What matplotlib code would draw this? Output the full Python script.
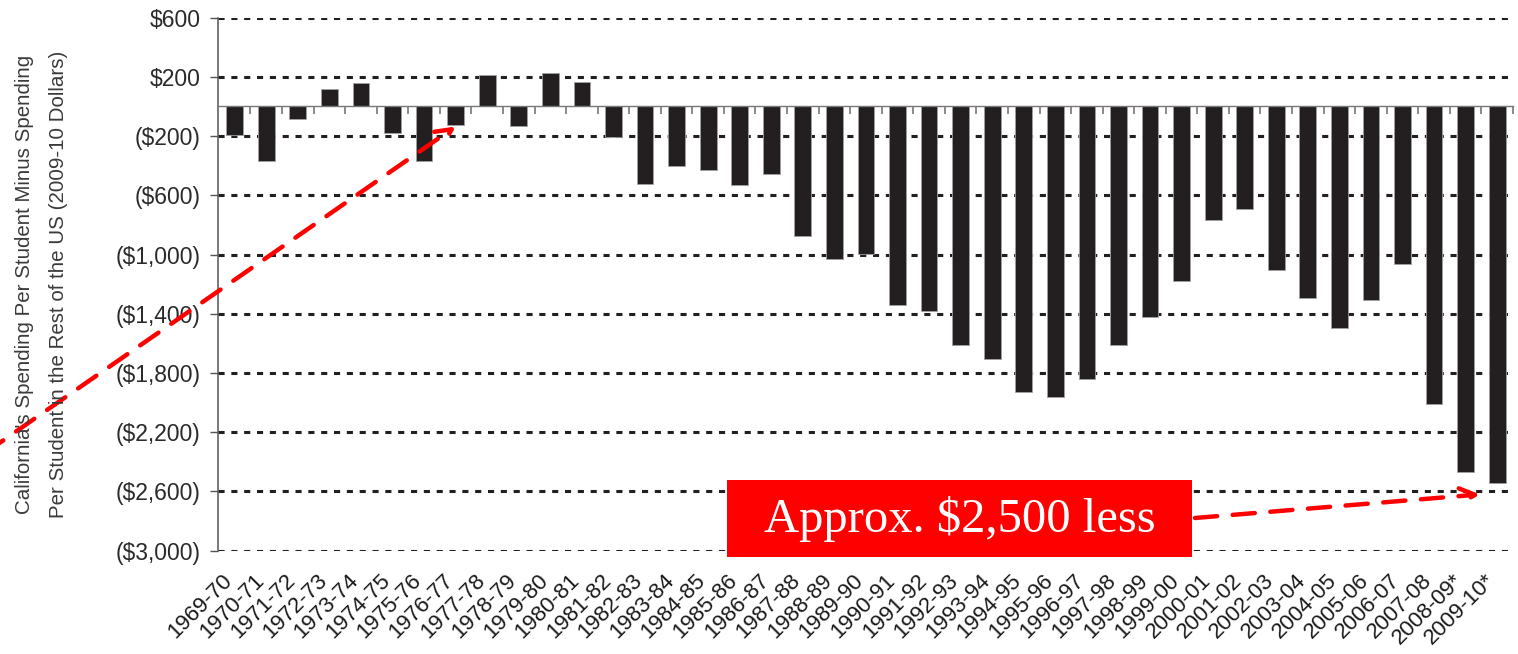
import matplotlib.pyplot as plt
from matplotlib.patches import Rectangle
from matplotlib.transforms import ScaledTranslation

years = ["1969-70", "1970-71", "1971-72", "1972-73", "1973-74", "1974-75", "1975-76",
         "1976-77", "1977-78", "1978-79", "1979-80", "1980-81", "1981-82", "1982-83",
         "1983-84", "1984-85", "1985-86", "1986-87", "1987-88", "1988-89", "1989-90",
         "1990-91", "1991-92", "1992-93", "1993-94", "1994-95", "1995-96", "1996-97",
         "1997-98", "1998-99", "1999-00", "2000-01", "2001-02", "2002-03", "2003-04",
         "2004-05", "2005-06", "2006-07", "2007-08", "2008-09*", "2009-10*"]

# California per-student spending minus rest of US (2009-10 dollars)
gap = [-195, -370, -85, 120, 160, -180, -370, -125, 215, -132, 226, 167, -205,
       -522, -399, -426, -532, -455, -875, -1027, -993, -1341, -1382, -1610, -1704, -1929, -1965,
       -1840, -1610, -1420, -1180, -769, -693, -1104, -1294, -1496, -1306, -1065, -2010, -2470, -2546]

yticks = [600, 200, -200, -600, -1000, -1400, -1800, -2200, -2600, -3000]
ytick_labels = ["$600", "$200", "($200)", "($600)", "($1,000)", "($1,400)",
                "($1,800)", "($2,200)", "($2,600)", "($3,000)"]

W, H = 1518, 654
fig = plt.figure(figsize=(W / 100, H / 100), dpi=100)
ax = fig.add_axes([0.1438, 0.158, 0.9967 - 0.1438, 0.973 - 0.158])

x = list(range(len(years)))
ax.bar(x, gap, width=0.53, color='#231f20', edgecolor='#a0a0a0', linewidth=0.6, zorder=3)

ax.set_xlim(-0.52, len(years) - 0.5)
ax.set_ylim(-3000, 600)

# gridlines
ax.set_yticks(yticks)
ax.set_yticklabels(ytick_labels, fontsize=16.5, color='#2a2a2a', family='Liberation Sans')
ax.yaxis.grid(True, color='#231f20', lw=2.2, linestyle=(0, (2, 2.2)))
ax.set_axisbelow(True)
ax.tick_params(axis='y', direction='out', length=6, width=1, color='#555555', pad=7)

for s in ['top', 'right']:
    ax.spines[s].set_visible(False)
ax.spines['left'].set_color('#555555')
ax.spines['left'].set_linewidth(1.1)

# baseline at zero with small ticks between categories
ax.spines['bottom'].set_position(('data', 0))
ax.spines['bottom'].set_color('#777777')
ax.spines['bottom'].set_linewidth(1.0)
ax.spines['bottom'].set_zorder(4)
ax.set_xticks([i + 0.5 for i in x])
ax.set_xticklabels([])
ax.tick_params(axis='x', direction='out', length=6, width=1.2, color='#777777')

# category labels at bottom
sec = ax.secondary_xaxis('bottom')
sec.set_xticks(x)
sec.set_xticklabels(years, rotation=45, ha='right', va='top', rotation_mode='anchor',
                    fontsize=16, color='#1a1a1a', family='Liberation Sans')
sec.tick_params(length=0, pad=14)
sec.spines['bottom'].set_visible(False)
shift = ScaledTranslation(-13 / 100, 0, fig.dpi_scale_trans)
for lab in sec.get_xticklabels():
    lab.set_transform(lab.get_transform() + shift)

fig.text(42 / W, 0.5 * (0.973 + 0.158),
         "California's Spending Per Student Minus Spending\nPer Student in the Rest of the US (2009-10 Dollars)",
         rotation=90, ha='center', va='center', multialignment='center',
         fontsize=14.8, color='#3a3a3a', family='Liberation Sans', linespacing=2.0)

# red annotations
red = '#ff0000'
ax.annotate('', xy=(7, -135), xycoords='data', xytext=(-15, H - 453), textcoords='figure pixels',
            arrowprops=dict(arrowstyle='->', color=red, lw=3.2, linestyle=(0, (5, 3.5)),
                            mutation_scale=28, shrinkA=0, shrinkB=0),
            annotation_clip=False, zorder=6)

fig.patches.append(Rectangle((727 / W, 1 - 557 / H), 465 / W, 77 / H, transform=fig.transFigure,
                             facecolor=red, edgecolor='none', zorder=5))
fig.text(959.5 / W, 1 - 519 / H, "Approx. $2,500 less", color='white', fontsize=35,
         family='Liberation Serif', ha='center', va='center', zorder=6)

ax.annotate('', xy=(39.45, -2620), xycoords='data', xytext=(1195, H - 518), textcoords='figure pixels',
            arrowprops=dict(arrowstyle='->', color=red, lw=3.2, linestyle=(0, (5, 3.5)),
                            mutation_scale=28, shrinkA=0, shrinkB=0),
            annotation_clip=False, zorder=6)

fig.savefig('out.png', dpi=100)
